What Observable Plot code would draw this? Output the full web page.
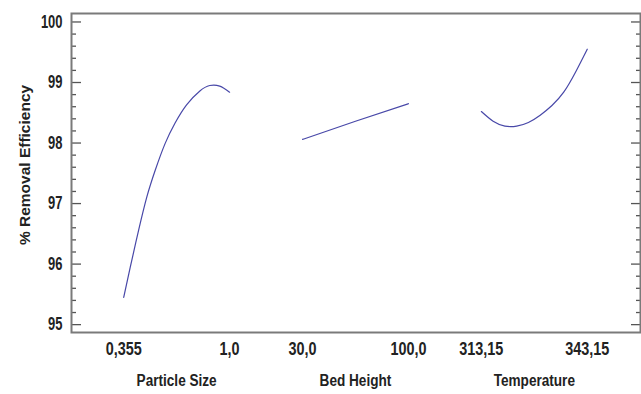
<!DOCTYPE html>
<html>
<head>
<meta charset="utf-8">
<script src="https://cdn.jsdelivr.net/npm/d3@7"></script>
<script src="https://cdn.jsdelivr.net/npm/@observablehq/plot@0.6"></script>
<style>
  html, body { margin: 0; padding: 0; background: #fff; }
  #chart svg { display: block; }
</style>
</head>
<body>
<div id="chart"></div>
<script>
// ---- data ----
const factors = ["Particle Size", "Bed Height", "Temperature"];
const lows = [0.355, 30, 313.15];
const highs = [1.0, 100, 343.15];
const tickLabels = ["0,355", "1,0", "30,0", "100,0", "313,15", "343,15"];

const particleSize = [0.355, 0.395, 0.446, 0.496, 0.547, 0.607, 0.668, 0.738, 0.819, 0.879, 0.940, 1.0];
const particleEff  = [95.45, 95.95, 96.56, 97.11, 97.55, 97.99, 98.33, 98.63, 98.86, 98.95, 98.94, 98.84];

const bedHeight = [30, 65, 100];
const bedEff    = [98.06, 98.36, 98.65];

const temperature = [313.15, 316.48, 319.82, 323.15, 326.48, 329.82, 333.15, 336.48, 339.82, 343.15];
const tempEff     = [98.52, 98.36, 98.28, 98.28, 98.34, 98.46, 98.62, 98.84, 99.17, 99.55];

const yMajor = [95, 96, 97, 98, 99, 100];
const yMinor = [95.2, 95.4, 95.6, 95.8, 96.2, 96.4, 96.6, 96.8, 97.2, 97.4, 97.6, 97.8,
                98.2, 98.4, 98.6, 98.8, 99.2, 99.4, 99.6, 99.8];

// ---- composite x position: each factor occupies one unit, segments spaced apart ----
const SPACING = 1.689;
const pos = (i, v) => i * SPACING + (v - lows[i]) / (highs[i] - lows[i]);

const series = [
  [particleSize, particleEff],
  [bedHeight, bedEff],
  [temperature, tempEff]
];
const rows = series.flatMap(([xs, ys], i) => xs.map((v, k) => ({factor: factors[i], u: pos(i, v), eff: ys[k]})));

const xTicks = factors.flatMap((f, i) => [
  {u: pos(i, lows[i]), label: tickLabels[2 * i]},
  {u: pos(i, highs[i]), label: tickLabels[2 * i + 1]}
]);
const factorLabels = factors.map((f, i) => ({u: pos(i, (lows[i] + highs[i]) / 2), label: f}));

const FONT = "'Liberation Sans', Arial, Helvetica, sans-serif";
const TICK = {stroke: "#555", strokeWidth: 1.3, fill: "none", label: null};

const chart = Plot.plot({
  width: 641,
  height: 394,
  marginLeft: 71,
  marginRight: 1,
  marginTop: 13,
  marginBottom: 62,
  x: {domain: [-0.493, 2 * SPACING + 1 + 0.503], label: null, axis: null},
  y: {domain: [94.87, 100.14], label: null, axis: null},
  style: {fontFamily: FONT, fontWeight: "bold", fontSize: "16px", color: "#222", background: "#fff"},
  marks: [
    Plot.line(rows, {x: "u", y: "eff", z: "factor", curve: "natural", stroke: "#4848a8", strokeWidth: 1.2}),
    // y tick labels
    Plot.axisY(yMajor, {anchor: "left", tickSize: 0, tickPadding: 9, label: null, fontSize: 18, fill: "#222", tickFormat: d => `${d}`, className: "ylab"}),
    // inward ticks left (drawn leftward from an inset)
    Plot.axisY(yMajor, {anchor: "left", tickSize: 10, insetLeft: 10, ...TICK}),
    Plot.axisY(yMinor, {anchor: "left", tickSize: 5, insetLeft: 5, ...TICK}),
    // inward ticks right
    Plot.axisY(yMajor, {anchor: "right", tickSize: 10, insetRight: 10, ...TICK}),
    Plot.axisY(yMinor, {anchor: "right", tickSize: 5, insetRight: 5, ...TICK}),
    // x tick labels
    Plot.text(xTicks, {x: "u", text: "label", frameAnchor: "bottom", dy: 22, fontSize: 18, fill: "#222", className: "xlab"}),
    // factor names
    Plot.text(factorLabels, {x: "u", text: "label", frameAnchor: "bottom", dy: 53, fontSize: 17, fill: "#222", className: "flab"}),
    // y title
    Plot.text(["% Removal Efficiency"], {frameAnchor: "left", textAnchor: "middle", rotate: -90, dx: -46, dy: -8, fontSize: 15.5, fill: "#222"}),
    Plot.frame({stroke: "#7a7a7a", strokeWidth: 2})
  ]
});
// horizontally condensed lettering like the reference (Arial Narrow look)
const squeeze = (sel, s) => chart.querySelectorAll(sel).forEach(t => {
  const tr = t.getAttribute("transform") || "";
  t.setAttribute("transform", `${tr} scale(${s},1)`);
});
squeeze(".ylab text", 0.72);
squeeze(".xlab text", 0.8);
squeeze(".flab text", 0.8);
document.getElementById("chart").appendChild(chart);
</script>
</body>
</html>
